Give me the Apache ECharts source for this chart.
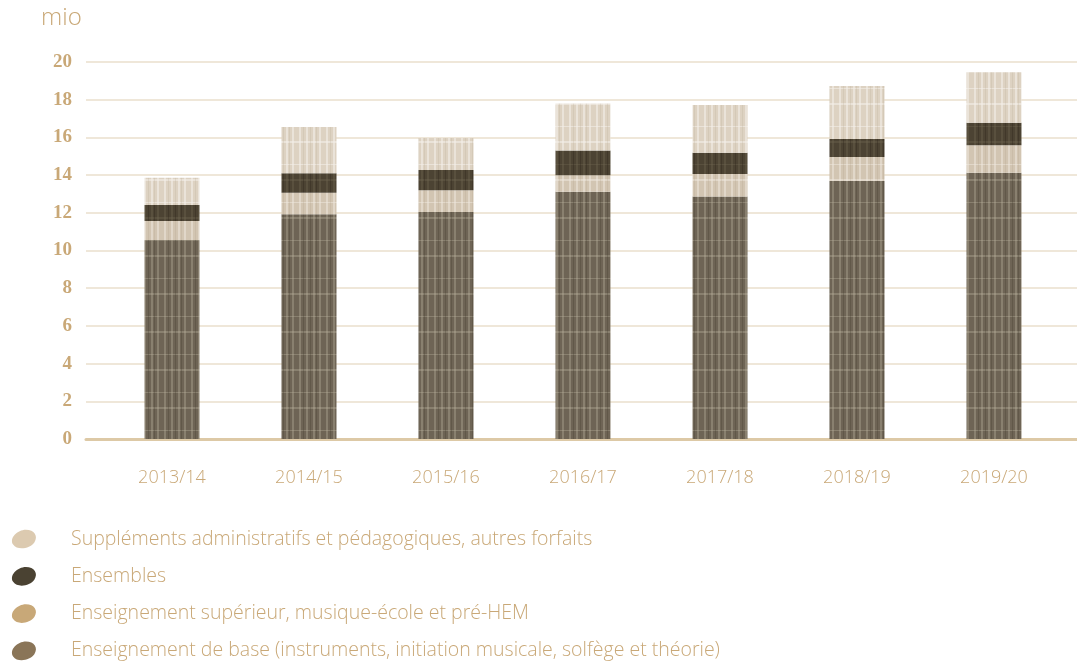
<!DOCTYPE html>
<html><head><meta charset="utf-8">
<script src="https://cdn.jsdelivr.net/npm/echarts@6/dist/echarts.min.js"></script>
<style>html,body{margin:0;padding:0;background:#fff}#c{width:1077px;height:664px}</style>
</head><body><div id="c"></div>
<script>
const categories = ['2013/14','2014/15','2015/16','2016/17','2017/18','2018/19','2019/20'];
const base = [10.56, 11.92, 12.04, 13.12, 12.86, 13.69, 14.13];
const superieur = [1.00, 1.15, 1.16, 0.87, 1.20, 1.27, 1.45];
const ensembles = [0.85, 1.03, 1.07, 1.31, 1.13, 0.96, 1.20];
const supplements = [1.45, 2.45, 1.70, 2.50, 2.53, 2.81, 2.67];
const names = ['Suppléments administratifs et pédagogiques, autres forfaits','Ensembles','Enseignement supérieur, musique-école et pré-HEM','Enseignement de base (instruments, initiation musicale, solfège et théorie)'];
const yTicks = [0,2,4,6,8,10,12,14,16,18,20];

const gold = '#c9a877';
const sans = '"Open Sans", "Noto Sans", sans-serif';
const ellipse = 'path://M2,14 C-2,8 6,0 14,0 C22,0 26,6 22,12 C18,18 6,20 2,14 Z';

function plaid(bg, light, dark) {
  const c = document.createElement('canvas');
  c.width = 27; c.height = 38;
  const g = c.getContext('2d');
  g.fillStyle = bg; g.fillRect(0, 0, 27, 38);
  g.fillStyle = light;
  [2, 9, 16, 22].forEach(x => g.fillRect(x, 0, 2, 38));
  g.fillRect(0, 12, 27, 1); g.fillRect(0, 27, 27, 2);
  g.fillStyle = dark;
  [6, 13, 19].forEach(x => g.fillRect(x, 0, 1, 38));
  return {image: c, repeat: 'repeat'};
}

const chart = echarts.init(document.getElementById('c'), null, {renderer:'canvas'});
const mk = (name, data, color) => ({
  name, type:'bar', stack:'t', xAxisIndex:1, yAxisIndex:1, barWidth:55,
  data, itemStyle:{color}, emphasis:{disabled:true}
});
chart.setOption({
  animation:false,
  graphic:[{type:'text', left:41, top:6, style:{text:'mio', fill:gold, font:'300 24px ' + sans}}],
  grid:[
    {left:86, right:0, top:62, bottom:225},
    {left:103.5, right:14.5, top:62, bottom:225}
  ],
  xAxis:[
    {gridIndex:0, type:'category', data:categories, axisLine:{show:true, lineStyle:{color:'#ddc9a6', width:3}}, axisTick:{show:false}, axisLabel:{show:false}},
    {gridIndex:1, type:'category', data:categories, axisLine:{show:false}, axisTick:{show:false},
     axisLabel:{color:gold, fontFamily:sans, fontWeight:300, fontSize:18, margin:30}}
  ],
  yAxis:[
    {gridIndex:0, type:'value', min:0, max:20, interval:2, axisLine:{show:false}, axisTick:{show:false},
     splitLine:{lineStyle:{color:'#eadfcc', width:1.5}},
     axisLabel:{color:gold, fontFamily:'"Liberation Serif", "DejaVu Serif", serif', fontWeight:'bold', fontSize:19, margin:14,
       formatter:v => yTicks.includes(v) ? String(v) : ''}},
    {gridIndex:1, type:'value', min:0, max:20, interval:2, show:false}
  ],
  legend:{
    orient:'vertical', left:12, top:529, height:135, padding:0, itemGap:17.3, itemWidth:24, itemHeight:20, icon:ellipse,
    textStyle:{color:gold, fontFamily:sans, fontWeight:300, fontSize:19.5, padding:[0,0,0,30]},
    data:[
      {name:names[0], itemStyle:{color:'#dccab0'}},
      {name:names[1], itemStyle:{color:'#4a4232'}},
      {name:names[2], itemStyle:{color:'#c8a878'}},
      {name:names[3], itemStyle:{color:'#8a7558'}}
    ]
  },
  series:[
    mk(names[3], base, plaid('#6e6455', 'rgba(190,180,160,0.35)', 'rgba(60,52,40,0.25)')),
    mk(names[2], superieur, plaid('#d2c5b2', 'rgba(240,234,224,0.5)', 'rgba(170,155,130,0.2)')),
    mk(names[1], ensembles, plaid('#4c4333', 'rgba(110,100,80,0.4)', 'rgba(40,34,24,0.3)')),
    mk(names[0], supplements, plaid('#ddd2c2', 'rgba(244,239,231,0.6)', 'rgba(180,165,140,0.2)'))
  ]
});
</script></body></html>
